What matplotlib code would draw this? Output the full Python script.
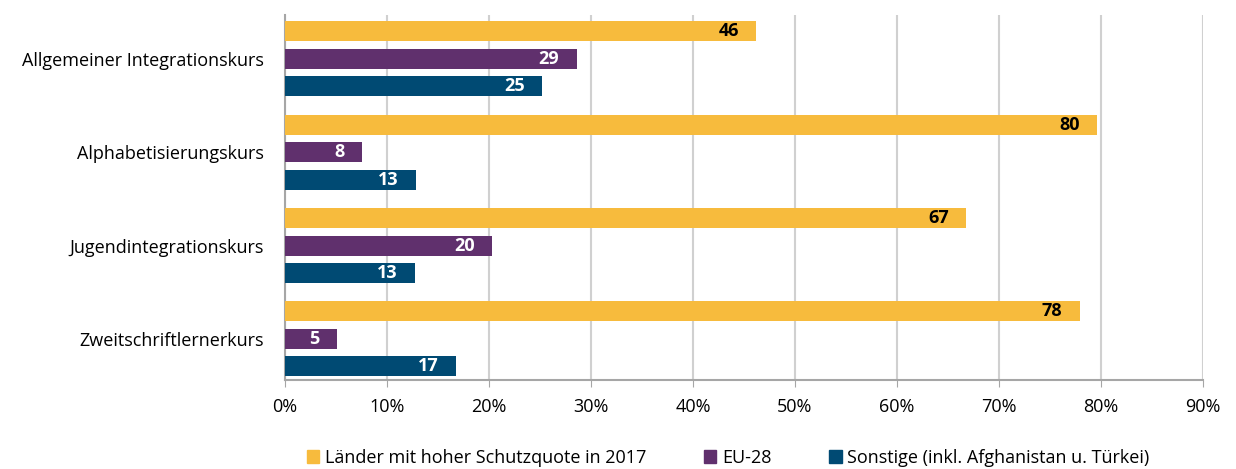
import numpy as np
import matplotlib.pyplot as plt
from matplotlib.patches import Patch
from matplotlib.ticker import FuncFormatter

plt.rcParams['font.family'] = ['Open Sans', 'DejaVu Sans']

kurse = ["Allgemeiner Integrationskurs", "Alphabetisierungskurs",
         "Jugendintegrationskurs", "Zweitschriftlernerkurs"]
serien = ["Länder mit hoher Schutzquote in 2017", "EU-28",
          "Sonstige (inkl. Afghanistan u. Türkei)"]
schutzquote = [46.2, 79.6, 66.8, 77.9]
eu28 = [28.6, 7.5, 20.3, 5.1]
sonstige = [25.2, 12.8, 12.7, 16.8]

farben = ["#F7BB3D", "#60306D", "#004A73"]
textfarben = ["black", "white", "white"]

fig = plt.figure(figsize=(12.36, 4.69), dpi=100)
ax = fig.add_axes([285 / 1236, 1 - 380 / 469, 918 / 1236, 365 / 469])

y = np.arange(len(kurse))
abstand = 0.295
hoehe = 0.215
for i, (werte, farbe, tf) in enumerate(zip([schutzquote, eu28, sonstige], farben, textfarben)):
    pos = y + (i - 1) * abstand
    bars = ax.barh(pos, werte, height=hoehe, color=farbe, zorder=3)
    for b, w in zip(bars, werte):
        ax.text(w - 1.7, b.get_y() + b.get_height() / 2, f"{round(w)}",
                ha="right", va="center", color=tf, fontsize=13,
                fontweight="bold", zorder=4)

ax.set_xlim(0, 90)
ax.set_ylim(3.44, -0.47)
ax.set_xticks(np.arange(0, 91, 10))
ax.xaxis.set_major_formatter(FuncFormatter(lambda v, p: f"{int(v)}%"))
ax.set_yticks(y)
ax.set_yticklabels(kurse, fontsize=13)
ax.tick_params(axis="y", length=0, pad=15)
ax.tick_params(axis="x", length=5, color="#A6A6A6", labelsize=13, pad=8)
ax.grid(axis="x", color="#D0D0D0", linewidth=1.5, zorder=0)

for s in ["top", "right"]:
    ax.spines[s].set_visible(False)
for s in ["left", "bottom"]:
    ax.spines[s].set_color("#A6A6A6")
    ax.spines[s].set_linewidth(1.5)

handles = [Patch(color=c, label=l) for c, l in zip(farben, serien)]
fig.legend(handles=handles, loc="center", bbox_to_anchor=(728 / 1236, 1 - 458 / 469),
           ncol=3, frameon=False, fontsize=13, handlelength=0.7, handleheight=0.7,
           handletextpad=0.3, columnspacing=3.2)

fig.savefig("out.png", dpi=100)
